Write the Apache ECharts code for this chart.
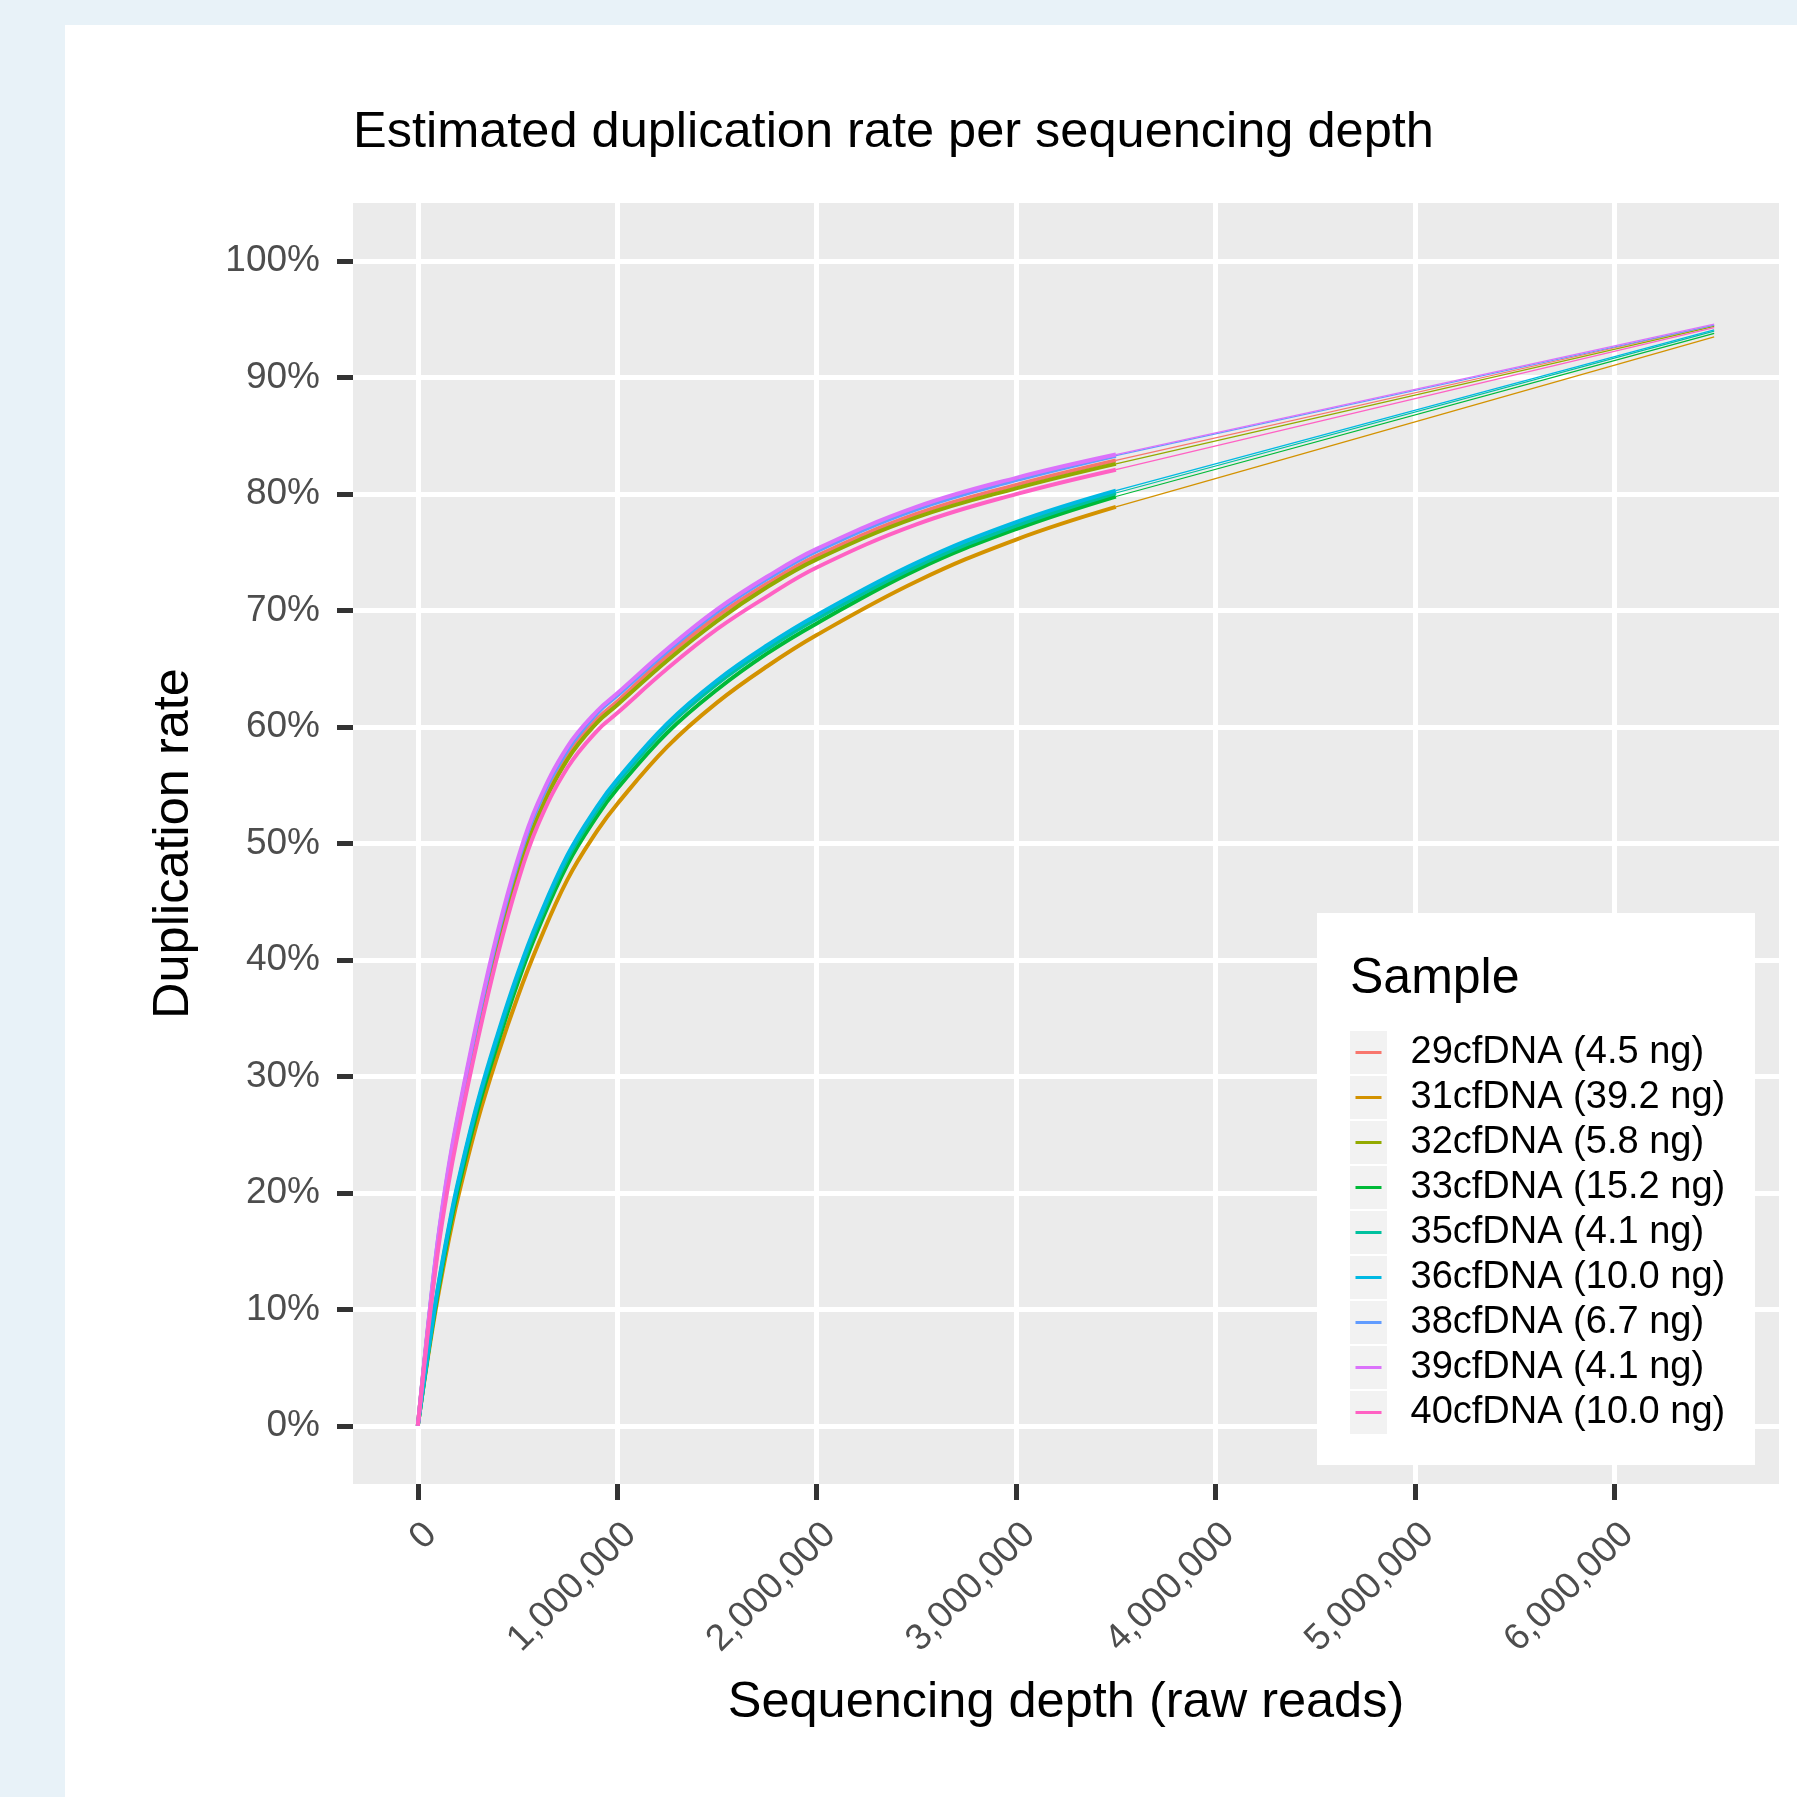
<!DOCTYPE html>
<html>
<head>
<meta charset="utf-8">
<script src="https://cdn.jsdelivr.net/npm/echarts@6/dist/echarts.min.js"></script>
<style>
  html, body { margin: 0; padding: 0; background: #E8F2F8; }
  #paper { position: absolute; left: 65px; top: 25px; width: 1732px; height: 1772px; background: #fff; }
  #chart { position: absolute; left: 0; top: 0; width: 1797px; height: 1797px; }
</style>
</head>
<body>
<div id="paper"></div>
<div id="chart"></div>
<script>
// sequencing depth (raw reads) of the dense part of each curve
const depthReads = [0, 50000, 100000, 150000, 200000, 300000, 400000, 500000, 600000, 750000,
    900000, 1000000, 1250000, 1500000, 1750000, 2000000, 2500000, 3000000, 3500000];
// the curves are then extended with a straight line up to this depth
const extendDepth = 6500000;

const sampleNames = ['29cfDNA (4.5 ng)', '31cfDNA (39.2 ng)', '32cfDNA (5.8 ng)', '33cfDNA (15.2 ng)',
    '35cfDNA (4.1 ng)', '36cfDNA (10.0 ng)', '38cfDNA (6.7 ng)', '39cfDNA (4.1 ng)', '40cfDNA (10.0 ng)'];
const sampleColors = ['#F8766D', '#D39200', '#93AA00', '#00BA38', '#00C19F', '#00B9E3', '#619CFF', '#DB72FB', '#FF61C3'];

// duplication rate (%) at each depth
const dup29 = [0, 8.2, 15.5, 21.2, 25.9, 34.2, 41.6, 47.8, 52.6, 57.6, 60.7, 62.2, 66.1, 69.5, 72.3, 74.7, 78.3, 80.8, 82.9];
const dup31 = [0, 5.8, 11.0, 15.5, 19.5, 26.2, 31.8, 36.8, 41.2, 46.9, 51.1, 53.4, 58.3, 62.1, 65.2, 67.9, 72.5, 76.1, 78.9];
const dup32 = [0, 8.1, 15.3, 21.0, 25.6, 33.8, 41.2, 47.4, 52.2, 57.2, 60.4, 61.9, 65.7, 69.1, 72.0, 74.4, 78.0, 80.5, 82.6];
const dup33 = [0, 6.0, 11.4, 16.1, 20.2, 27.1, 32.8, 38.0, 42.5, 48.2, 52.4, 54.7, 59.5, 63.2, 66.3, 68.9, 73.5, 77.0, 79.8];
const dup35 = [0, 6.1, 11.7, 16.4, 20.6, 27.6, 33.3, 38.5, 43.0, 48.7, 52.9, 55.2, 60.0, 63.7, 66.7, 69.3, 73.8, 77.3, 80.1];
const dup36 = [0, 6.2, 11.8, 16.6, 20.8, 27.8, 33.6, 38.8, 43.3, 49.0, 53.2, 55.5, 60.3, 64.0, 67.0, 69.6, 74.1, 77.6, 80.3];
const dup38 = [0, 8.3, 15.8, 21.6, 26.4, 34.7, 42.1, 48.3, 53.1, 58.0, 61.2, 62.7, 66.5, 69.9, 72.7, 75.1, 78.7, 81.2, 83.3];
const dup39 = [0, 8.4, 15.9, 21.8, 26.6, 35.0, 42.4, 48.6, 53.4, 58.3, 61.4, 62.9, 66.7, 70.1, 72.9, 75.3, 78.9, 81.4, 83.4];
const dup40 = [0, 7.9, 14.9, 20.4, 25.0, 33.1, 40.4, 46.6, 51.5, 56.5, 59.7, 61.2, 65.0, 68.4, 71.2, 73.7, 77.4, 80.0, 82.1];
// duplication rate (%) at the end of the straight extension
const dupAtEnd = [94.5, 93.5, 94.4, 93.8, 94.0, 94.1, 94.5, 94.6, 94.3];

const xTicks = [0, 1000000, 2000000, 3000000, 4000000, 5000000, 6000000];
const yTicks = [0, 10, 20, 30, 40, 50, 60, 70, 80, 90, 100];

const FONT = '"Liberation Sans", Arial, Helvetica, sans-serif';
const sampleDup = [dup29, dup31, dup32, dup33, dup35, dup36, dup38, dup39, dup40];

const chart = echarts.init(document.getElementById('chart'));

const series = [];
sampleNames.forEach((name, i) => {
    const vals = sampleDup[i];
    const color = sampleColors[i];
    // dense part
    series.push({
        name, type: 'line', silent: true, showSymbol: false, smooth: 0.4,
        data: depthReads.map((d, j) => [d, vals[j]]),
        lineStyle: { width: 4, color }, itemStyle: { color }
    });
    // thin extension
    series.push({
        name, type: 'line', silent: true, showSymbol: false,
        data: [[depthReads[depthReads.length - 1], vals[vals.length - 1]], [extendDepth, dupAtEnd[i]]],
        lineStyle: { width: 1.2, color }, itemStyle: { color }
    });
});

// legend box + grey keys (ggplot style)
const legendTop = 1030, legendStep = 45;
const graphics = [
    { type: 'rect', z: 3, shape: { x: 1317, y: 913, width: 438, height: 552 }, style: { fill: '#ffffff' } },
    { type: 'text', z: 3, x: 1350, y: 979, style: { text: 'Sample', fontSize: 50, fontFamily: FONT, fill: '#000', verticalAlign: 'middle' } }
];
sampleNames.forEach((_, i) => {
    graphics.push({
        type: 'rect', z: 3,
        shape: { x: 1350, y: legendTop + i * legendStep + 1, width: 37, height: 43 },
        style: { fill: '#F2F2F2' }
    });
});

chart.setOption({
    animation: false,
    backgroundColor: 'transparent',
    title: {
        text: 'Estimated duplication rate per sequencing depth',
        left: 353, top: 108, padding: 0,
        textStyle: { fontSize: 50.5, fontWeight: 'normal', color: '#000', fontFamily: FONT }
    },
    grid: {
        left: 353, top: 203, width: 1426, height: 1281,
        show: true, backgroundColor: '#EBEBEB', borderWidth: 0
    },
    xAxis: {
        type: 'value', min: -325000, max: 6825000,
        axisLine: { show: false, onZero: false },
        axisTick: { show: true, length: 16, customValues: xTicks, lineStyle: { color: '#333333', width: 5 } },
        axisLabel: {
            customValues: xTicks, rotate: 45, margin: 32, verticalAlign: 'top',
            color: '#4D4D4D', fontSize: 37, fontFamily: FONT,
            formatter: v => String(v).replace(/\B(?=(\d{3})+(?!\d))/g, ',')
        },
        splitLine: { show: true, lineStyle: { color: '#ffffff', width: 5 } },
        name: 'Sequencing depth (raw reads)', nameLocation: 'middle', nameGap: 194,
        nameTextStyle: { fontSize: 50.5, color: '#000', fontFamily: FONT }
    },
    yAxis: {
        type: 'value', min: -5, max: 105,
        axisLine: { show: false, onZero: false },
        axisTick: { show: true, length: 16, customValues: yTicks, lineStyle: { color: '#333333', width: 5 } },
        axisLabel: {
            customValues: yTicks, margin: 33,
            color: '#4D4D4D', fontSize: 37, fontFamily: FONT,
            formatter: v => v + '%'
        },
        splitLine: { show: true, lineStyle: { color: '#ffffff', width: 5 } },
        name: 'Duplication rate', nameLocation: 'middle', nameGap: 153,
        nameTextStyle: { fontSize: 50.5, color: '#000', fontFamily: FONT }
    },
    legend: {
        orient: 'vertical', left: 1355.5, top: legendTop, padding: 0,
        itemWidth: 26, itemHeight: 3, itemGap: 0, icon: 'rect',
        selectedMode: false,
        data: sampleNames,
        textStyle: { fontSize: 38, color: '#000', fontFamily: FONT, lineHeight: 45, padding: [0, 0, 0, 24] }
    },
    graphic: graphics,
    series
});
</script>
</body>
</html>
